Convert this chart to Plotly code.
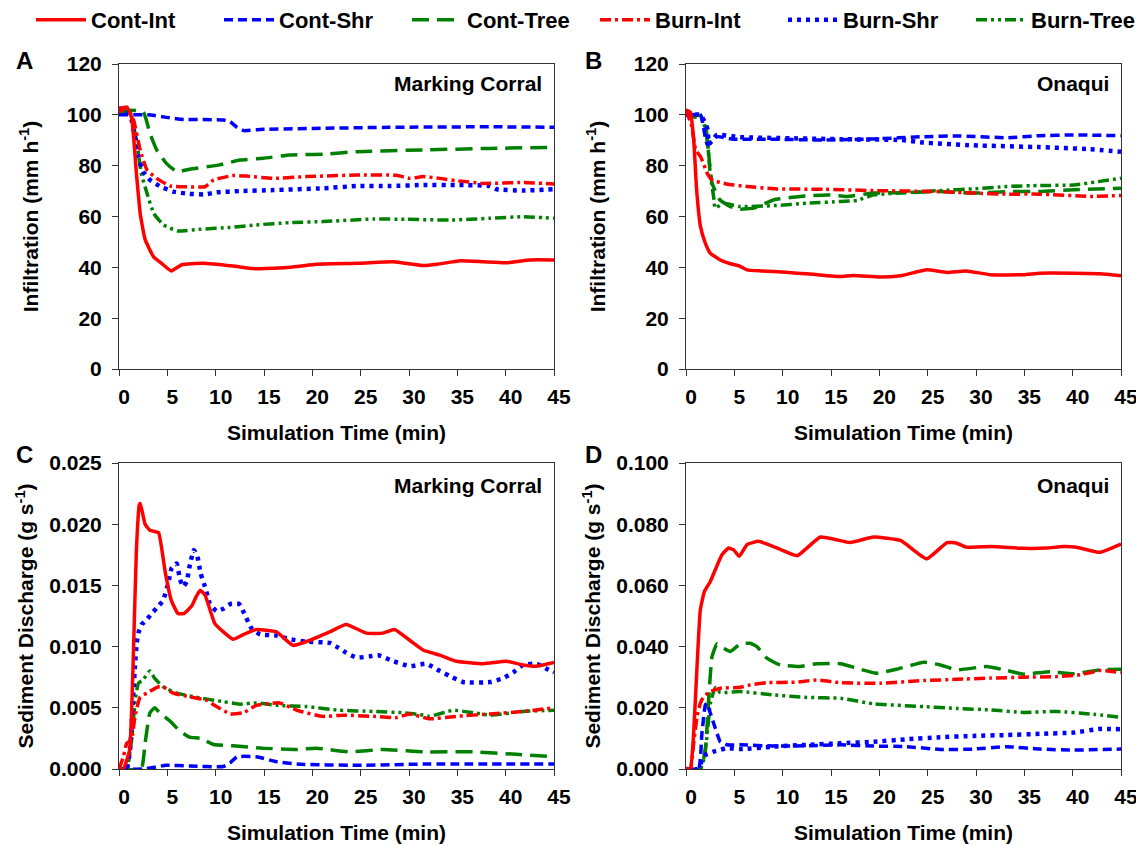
import plotly.graph_objects as go

# ---------------- data (minutes, values) ----------------
# Panel A: infiltration, Marking Corral (mm/h)
a_cont_int_t = [0, 0.8, 1.3, 1.8, 2.2, 2.7, 3.6, 4.4, 5.4, 6.5, 8.7, 11.8, 13.9, 16.0, 18.4, 20.4, 24.9, 28.4, 31.5, 32.9, 35.3, 37.7, 40.1, 42.5, 45]
a_cont_int = [102.5, 103, 99, 77, 61, 51, 44, 41.6, 38.6, 41, 41.6, 40.5, 39.5, 39.6, 40.3, 41.2, 41.6, 42.2, 40.7, 41.2, 42.6, 42.2, 41.8, 42.9, 42.9]
a_cont_shr_t = [0, 3.0, 4.9, 6.7, 10.8, 11.5, 12.2, 12.9, 14.9, 21.1, 28.0, 38.4, 45]
a_cont_shr = [100, 100, 99, 98.2, 98, 97.3, 95.1, 93.8, 94.3, 94.7, 95.1, 95.3, 95.1]
a_cont_tree_t = [0, 2.5, 3.2, 3.9, 4.9, 6.0, 7.3, 10.4, 12.5, 14.9, 17.7, 21.1, 24.6, 31.5, 38.4, 45]
a_cont_tree = [101.9, 101.2, 92.7, 86.2, 80.9, 77.6, 78.6, 80.3, 82.2, 82.9, 84.2, 84.5, 85.5, 86.2, 86.8, 87.2]
a_burn_int_t = [0, 0.8, 1.5, 2.2, 2.9, 3.9, 5.3, 7.0, 8.9, 9.8, 11.8, 13.2, 16.0, 19.4, 24.6, 28.7, 30.1, 31.5, 33.2, 34.9, 37.7, 41.8, 45]
a_burn_int = [101, 103, 98, 86, 78.3, 75, 72, 71.7, 71.7, 74.4, 76.1, 75.9, 75, 75.7, 76.3, 76.2, 75, 75.7, 75, 74.1, 73, 73.4, 72.8]
a_burn_shr_t = [0, 0.8, 1.3, 1.7, 2.0, 2.5, 3.2, 4.2, 5.6, 7.3, 8.9, 10.1, 12.5, 16.0, 21.1, 24.6, 28.0, 31.5, 34.9, 38.4, 39.1, 41.8, 45]
a_burn_shr = [102.5, 102, 98, 90, 83.5, 77.6, 74.4, 72, 69.8, 68.9, 68.7, 69.5, 70, 70.4, 71.1, 72, 72, 72.4, 72.4, 72, 70.7, 70.2, 70.7]
a_burn_tree_t = [0, 1.1, 1.8, 2.3, 2.9, 3.6, 4.6, 6.1, 8.4, 11.5, 14.2, 17.7, 21.1, 26.3, 29.8, 34.2, 38.4, 41.8, 45]
a_burn_tree = [101, 101.2, 90, 77, 69.1, 61.2, 56.7, 54.3, 55, 55.7, 56.7, 57.6, 58, 59, 58.9, 58.6, 59.3, 59.9, 59.3]

# Panel B: infiltration, Onaqui (mm/h)
b_cont_int_t = [0, 0.45, 0.8, 1.1, 1.5, 2.0, 2.5, 3.5, 4.6, 5.6, 6.3, 7.7, 9.1, 11.5, 13.2, 14.6, 16.0, 17.3, 20.1, 22.2, 24.9, 27.0, 29.0, 31.5, 34.9, 36.6, 40.1, 42.8, 45]
b_cont_int = [102, 101, 90, 70.5, 56, 49.5, 45.6, 43, 41.4, 40.4, 39, 38.6, 38.4, 37.7, 37.3, 36.7, 36.4, 36.8, 36.2, 36.7, 39, 38, 38.6, 37.1, 37.1, 37.7, 37.7, 37.5, 36.7]
b_cont_shr_t = [0, 1.5, 1.8, 2.2, 3.2, 4.9, 9.1, 14.2, 19.4, 24.6, 28.0, 33.2, 36.6, 40.1, 45]
b_cont_shr = [100, 100, 95.4, 88.2, 91.4, 90.4, 90.4, 90.1, 90.5, 91.4, 91.7, 91, 91.8, 92.1, 91.8]
b_cont_tree_t = [0, 1.5, 2.0, 2.3, 2.7, 3.5, 4.6, 5.6, 7.0, 9.1, 11.8, 14.6, 16.6, 19.4, 22.8, 26.3, 29.7, 33.2, 36.6, 40.1, 45]
b_cont_tree = [100, 99.6, 96.7, 86.2, 73.1, 66.6, 63.9, 62.9, 63.3, 66.6, 67.9, 68.5, 67.9, 69.2, 69.4, 69.8, 69.2, 69.8, 69.8, 70.5, 71.1]
b_burn_int_t = [0, 0.6, 1.0, 1.5, 2.2, 2.7, 4.2, 6.3, 9.1, 14.2, 19.4, 26.3, 29.7, 33.2, 36.6, 41.8, 45]
b_burn_int = [102, 95.4, 86.2, 83.6, 77, 74.4, 72.8, 71.8, 70.9, 70.7, 70.2, 69.8, 69.2, 68.8, 68.8, 67.9, 68.3]
b_burn_shr_t = [0, 1.5, 2.2, 2.4, 3.2, 5.6, 10.8, 16.0, 22.2, 24.6, 29.7, 36.6, 41.8, 45]
b_burn_shr = [100, 100, 94.7, 88.5, 92.1, 91.2, 90.8, 90.4, 90.1, 89.1, 88, 87.3, 86.5, 85.5]
b_burn_tree_t = [0, 1.7, 2.2, 2.5, 2.9, 3.0, 3.9, 5.6, 9.1, 12.5, 16.0, 17.7, 19.4, 22.8, 26.3, 29.7, 33.2, 36.6, 40.1, 45]
b_burn_tree = [100, 98, 90.1, 77, 66.6, 63.3, 65.2, 63.9, 64.3, 65.2, 65.9, 66.3, 68.5, 69.4, 70.2, 70.9, 71.8, 72.2, 72.4, 75.1]

# Panel C: sediment discharge, Marking Corral (g/s)
c_cont_int_t = [0, 0.45, 1.1, 1.5, 1.8, 2.1, 2.2, 2.7, 3.2, 3.7, 4.1, 4.8, 5.4, 6.1, 6.7, 7.5, 8.0, 8.4, 8.9, 9.9, 10.8, 11.8, 12.9, 14.2, 16.3, 18.0, 19.7, 21.8, 23.5, 25.6, 27.3, 28.5, 30.1, 31.5, 33.2, 34.9, 37.7, 40.1, 41.8, 43.2, 45]
c_cont_int = [0, 0, 0.00155, 0.0097, 0.0179, 0.0216, 0.0217, 0.0200, 0.0195, 0.0194, 0.0193, 0.0160, 0.0138, 0.0127, 0.0127, 0.0133, 0.0141, 0.0146, 0.0142, 0.0119, 0.0112, 0.0106, 0.0110, 0.0114, 0.0112, 0.0101, 0.0105, 0.0112, 0.0118, 0.0111, 0.0111, 0.0114, 0.0105, 0.0097, 0.0093, 0.0088, 0.0086, 0.0088, 0.0085, 0.0084, 0.0087]
c_cont_shr_t = [0, 2.5, 4.9, 7.3, 10.8, 11.5, 12.2, 14.2, 16.3, 18.4, 24.6, 31.5, 45]
c_cont_shr = [0, 0, 0.0003, 0.00025, 0.0002, 0.0005, 0.0010, 0.0010, 0.0006, 0.0004, 0.0003, 0.0004, 0.0004]
c_cont_tree_t = [0, 2.3, 2.7, 3.2, 3.7, 4.2, 5.3, 6.3, 7.3, 8.4, 9.8, 11.8, 14.9, 18.4, 20.4, 23.9, 27.3, 31.5, 36.6, 41.1, 45]
c_cont_tree = [0, 0, 0.0021, 0.0046, 0.0050, 0.0046, 0.0039, 0.0031, 0.0026, 0.0025, 0.0020, 0.0019, 0.0017, 0.0016, 0.0017, 0.0014, 0.0016, 0.0014, 0.0014, 0.0012, 0.0010]
c_burn_int_t = [0, 0.45, 0.8, 1.3, 1.65, 2.2, 2.9, 4.0, 4.6, 5.6, 7.3, 9.1, 10.1, 11.5, 12.9, 14.2, 16.6, 18.4, 21.1, 23.2, 26.3, 28.7, 30.1, 32.1, 34.9, 38.4, 41.8, 45]
c_burn_int = [0, 0.0010, 0.0021, 0.0024, 0.0043, 0.0059, 0.0062, 0.0067, 0.0067, 0.0062, 0.0059, 0.0056, 0.0051, 0.0045, 0.0046, 0.0052, 0.0054, 0.0048, 0.0043, 0.0044, 0.0043, 0.0042, 0.0045, 0.0041, 0.0043, 0.0045, 0.0047, 0.0050]
c_burn_shr_t = [0, 0.79, 1.14, 1.31, 1.48, 1.65, 1.83, 2.0, 2.34, 2.86, 3.38, 4.07, 4.58, 5.1, 5.44, 5.96, 6.31, 6.65, 7.0, 7.34, 7.75, 8.1, 8.44, 8.89, 9.41, 10.1, 10.8, 11.6, 12.4, 12.9, 13.7, 14.6, 16.3, 17.7, 19.4, 21.8, 22.7, 23.5, 24.6, 25.9, 26.8, 28.4, 30.1, 31.8, 33.2, 34.2, 35.6, 38.4, 39.7, 40.8, 41.8, 43.2, 44.2, 45]
c_burn_shr = [0, 0, 0.0016, 0.0035, 0.0062, 0.0084, 0.0103, 0.0111, 0.0118, 0.0122, 0.0127, 0.0133, 0.0138, 0.0152, 0.0164, 0.0168, 0.0155, 0.0149, 0.0153, 0.0167, 0.0179, 0.0174, 0.0160, 0.0149, 0.0135, 0.0129, 0.0131, 0.0135, 0.0135, 0.0128, 0.0115, 0.0110, 0.0109, 0.0106, 0.0104, 0.0103, 0.0099, 0.0095, 0.0091, 0.0092, 0.0093, 0.0088, 0.0084, 0.0086, 0.0080, 0.0076, 0.0071, 0.0071, 0.0074, 0.0079, 0.0085, 0.0086, 0.0082, 0.0079]
c_burn_tree_t = [0, 0.79, 1.31, 1.65, 2.0, 2.5, 3.2, 3.7, 4.6, 5.96, 8.4, 10.8, 12.5, 14.2, 16.3, 19.4, 22.8, 26.3, 29.4, 31.5, 32.1, 34.6, 36.6, 38.4, 41.8, 45]
c_burn_tree = [0, 0, 0.0024, 0.0054, 0.0070, 0.0073, 0.0080, 0.0074, 0.0067, 0.0062, 0.0058, 0.0055, 0.0053, 0.0054, 0.0052, 0.0051, 0.0048, 0.0047, 0.0046, 0.0044, 0.0043, 0.0048, 0.0046, 0.0044, 0.0047, 0.0048]

# Panel D: sediment discharge, Onaqui (g/s)
d_cont_int_t = [0, 0.45, 0.79, 1.14, 1.48, 1.9, 2.52, 3.03, 3.72, 4.41, 4.93, 5.51, 6.31, 7.51, 9.06, 11.5, 12.5, 13.9, 15.3, 17.0, 19.4, 22.2, 24.9, 27.0, 28.0, 29.0, 31.5, 34.9, 37.3, 39.0, 40.4, 42.8, 45]
d_cont_int = [0, 0, 0.0117, 0.0335, 0.0520, 0.0580, 0.0613, 0.0651, 0.0700, 0.0722, 0.0716, 0.0695, 0.0733, 0.0744, 0.0727, 0.0697, 0.0722, 0.0758, 0.0751, 0.0740, 0.0758, 0.0747, 0.0687, 0.0740, 0.0738, 0.0725, 0.0727, 0.0721, 0.0722, 0.0727, 0.0725, 0.0708, 0.0735]
d_cont_shr_t = [0, 1.31, 1.65, 2.0, 2.17, 2.52, 3.03, 3.55, 4.24, 5.62, 9.06, 12.5, 16.0, 19.4, 22.8, 26.3, 29.7, 33.2, 36.6, 40.1, 45]
d_cont_shr = [0, 0, 0.0117, 0.0209, 0.0215, 0.0182, 0.0133, 0.0089, 0.0079, 0.0079, 0.0075, 0.0076, 0.0079, 0.0075, 0.0073, 0.0064, 0.0065, 0.0073, 0.0065, 0.0062, 0.0065]
d_cont_tree_t = [0, 1.48, 2.0, 2.34, 2.69, 3.2, 3.89, 4.58, 5.62, 6.65, 7.34, 8.37, 9.75, 11.8, 13.5, 16.0, 17.7, 19.7, 21.8, 24.6, 26.3, 28.0, 31.1, 33.2, 34.9, 37.7, 40.1, 42.8, 45]
d_cont_tree = [0, 0, 0.0062, 0.0226, 0.0367, 0.0409, 0.0395, 0.0384, 0.0409, 0.0411, 0.0400, 0.0362, 0.0340, 0.0335, 0.0344, 0.0344, 0.0329, 0.0313, 0.0326, 0.0349, 0.0340, 0.0324, 0.0335, 0.0322, 0.0310, 0.0318, 0.0311, 0.0324, 0.0326]
d_burn_int_t = [0, 0.45, 0.79, 1.14, 1.48, 1.83, 2.52, 3.55, 5.62, 6.65, 8.37, 11.5, 13.5, 16.0, 20.1, 24.6, 28.0, 31.5, 34.9, 38.4, 40.8, 42.8, 45]
d_burn_int = [0, 0, 0.0084, 0.0171, 0.0215, 0.0237, 0.0253, 0.0264, 0.0267, 0.0275, 0.0282, 0.0284, 0.0291, 0.0282, 0.0280, 0.0289, 0.0293, 0.0297, 0.0300, 0.0302, 0.0308, 0.0322, 0.0315]
d_burn_shr_t = [0, 1.31, 1.65, 2.0, 2.86, 4.24, 5.62, 9.06, 12.5, 16.0, 19.4, 22.8, 26.3, 29.7, 33.2, 36.6, 40.1, 42.8, 45]
d_burn_shr = [0, 0, 0.0029, 0.0046, 0.0057, 0.0068, 0.0065, 0.0073, 0.0079, 0.0084, 0.0089, 0.0097, 0.0104, 0.0108, 0.0111, 0.0115, 0.0119, 0.0131, 0.0130]
d_burn_tree_t = [0, 1.48, 1.83, 2.17, 2.52, 3.03, 3.55, 5.62, 9.06, 12.5, 16.0, 19.4, 24.6, 28.0, 31.5, 34.9, 38.4, 41.8, 45]
d_burn_tree = [0, 0, 0.0029, 0.0106, 0.0215, 0.0266, 0.0250, 0.0253, 0.0242, 0.0234, 0.0231, 0.0213, 0.0204, 0.0198, 0.0193, 0.0185, 0.0188, 0.0180, 0.0169]

series_names = ["Cont-Int", "Cont-Shr", "Cont-Tree", "Burn-Int", "Burn-Shr", "Burn-Tree"]
x_ticks = [0, 5, 10, 15, 20, 25, 30, 35, 40, 45]

FONT = "Arial, Liberation Sans, sans-serif"
RED, BLUE, GREEN = "#FF0000", "#0000FF", "#008000"
styles = {
    "Cont-Int": dict(color=RED, dash="solid", width=3.5),
    "Cont-Shr": dict(color=BLUE, dash="9px,5px", width=3.5),
    "Cont-Tree": dict(color=GREEN, dash="17px,8px", width=3.5),
    "Burn-Int": dict(color=RED, dash="11px,4px,3px,4px", width=3.5),
    "Burn-Shr": dict(color=BLUE, dash="4px,5px", width=4.5),
    "Burn-Tree": dict(color=GREEN, dash="11px,4px,3px,4px,3px,4px", width=3.5),
}

panels = {
    "A": ("x", "y", [(a_cont_int_t, a_cont_int), (a_cont_shr_t, a_cont_shr), (a_cont_tree_t, a_cont_tree),
                     (a_burn_int_t, a_burn_int), (a_burn_shr_t, a_burn_shr), (a_burn_tree_t, a_burn_tree)]),
    "B": ("x2", "y2", [(b_cont_int_t, b_cont_int), (b_cont_shr_t, b_cont_shr), (b_cont_tree_t, b_cont_tree),
                       (b_burn_int_t, b_burn_int), (b_burn_shr_t, b_burn_shr), (b_burn_tree_t, b_burn_tree)]),
    "C": ("x3", "y3", [(c_cont_int_t, c_cont_int), (c_cont_shr_t, c_cont_shr), (c_cont_tree_t, c_cont_tree),
                       (c_burn_int_t, c_burn_int), (c_burn_shr_t, c_burn_shr), (c_burn_tree_t, c_burn_tree)]),
    "D": ("x4", "y4", [(d_cont_int_t, d_cont_int), (d_cont_shr_t, d_cont_shr), (d_cont_tree_t, d_cont_tree),
                       (d_burn_int_t, d_burn_int), (d_burn_shr_t, d_burn_shr), (d_burn_tree_t, d_burn_tree)]),
}

fig = go.Figure()
# draw order: green/blue under red like the original
order = [2, 5, 1, 4, 3, 0]
for key, (xa, ya, data) in panels.items():
    for i in order:
        name = series_names[i]
        t, v = data[i]
        st = styles[name]
        fig.add_trace(go.Scatter(
            x=t, y=v, mode="lines", name=name, xaxis=xa, yaxis=ya,
            line=dict(color=st["color"], dash=st["dash"], width=st["width"], shape="spline", smoothing=0.4),
            showlegend=(key == "A"), legendrank=i + 1,
        ))

W, H = 1144, 845
OFF = 8  # page body margin offsets the figure on screen

def px_x(p):
    return (p - OFF) / W

def px_y(p):
    return 1 - (p - OFF) / H

tick_font = dict(family=FONT, size=21, color="black", weight="bold")
title_font = dict(family=FONT, size=21, color="black", weight="bold")

def xaxis(dom, anchor):
    return dict(domain=dom, anchor=anchor, range=[0, 45], tickvals=x_ticks, ticktext=[str(v) for v in x_ticks],
                ticks="outside", ticklen=6, tickcolor="#333", showline=True, linecolor="#333", linewidth=1,
                mirror=True, showgrid=False, zeroline=False, tickfont=tick_font, ticklabelshift=5,
                ticklabelstandoff=3,
                title=dict(text="Simulation Time (min)", font=title_font, standoff=18))

def yaxis(dom, anchor, rng, dt, fmt, title, standoff):
    return dict(domain=dom, anchor=anchor, range=rng, dtick=dt, tick0=0, tickformat=fmt,
                ticks="outside", ticklen=6, tickcolor="#333", showline=True, linecolor="#333", linewidth=1,
                mirror=True, showgrid=False, zeroline=False, tickfont=tick_font, ticklabelstandoff=6,
                title=dict(text=title, font=title_font, standoff=standoff))

xl = [px_x(119), px_x(554)]
xr = [px_x(686), px_x(1121)]
yt = [px_y(369), px_y(64)]
yb = [px_y(769), px_y(463)]
inf_title = "Infiltration (mm h<sup>-1</sup>)"
sed_title = "Sediment Discharge (g s<sup>-1</sup>)"

fig.update_layout(
    width=W, height=H,
    margin=dict(l=0, r=0, t=0, b=0, autoexpand=False),
    paper_bgcolor="white", plot_bgcolor="white",
    font=dict(family=FONT, size=17, color="black"),
    xaxis=xaxis(xl, "y"), yaxis=yaxis(yt, "x", [0, 120], 20, "d", inf_title, 22),
    xaxis2=xaxis(xr, "y2"), yaxis2=yaxis(yt, "x2", [0, 120], 20, "d", inf_title, 22),
    xaxis3=xaxis(xl, "y3"), yaxis3=yaxis(yb, "x3", [0, 0.025], 0.005, ".3f", sed_title, 9),
    xaxis4=xaxis(xr, "y4"), yaxis4=yaxis(yb, "x4", [0, 0.1], 0.02, ".3f", sed_title, 9),
    legend=dict(orientation="h", x=px_x(31), y=px_y(20), xanchor="left", yanchor="middle",
                font=dict(family=FONT, size=22, color="black", weight="bold"),
                itemwidth=50, entrywidth=123, traceorder="normal", bgcolor="rgba(0,0,0,0)"),
)

ann = []
for letter, x, y in [("A", 24, 61), ("B", 593, 61), ("C", 24, 455), ("D", 593, 455)]:
    ann.append(dict(text=letter, x=px_x(x), y=px_y(y), xref="paper", yref="paper", showarrow=False,
                    xanchor="center", yanchor="middle",
                    font=dict(family=FONT, size=24, color="black", weight="bold")))
for site, xr_px, y in [("Marking Corral", 544, 84), ("Onaqui", 1111, 84), ("Marking Corral", 544, 485), ("Onaqui", 1111, 485)]:
    ann.append(dict(text=site, x=px_x(xr_px), y=px_y(y), xref="paper", yref="paper", xanchor="right",
                    yanchor="middle", showarrow=False,
                    font=dict(family=FONT, size=21, color="black", weight="bold")))
fig.update_layout(annotations=ann)

fig.write_html("out.html")
